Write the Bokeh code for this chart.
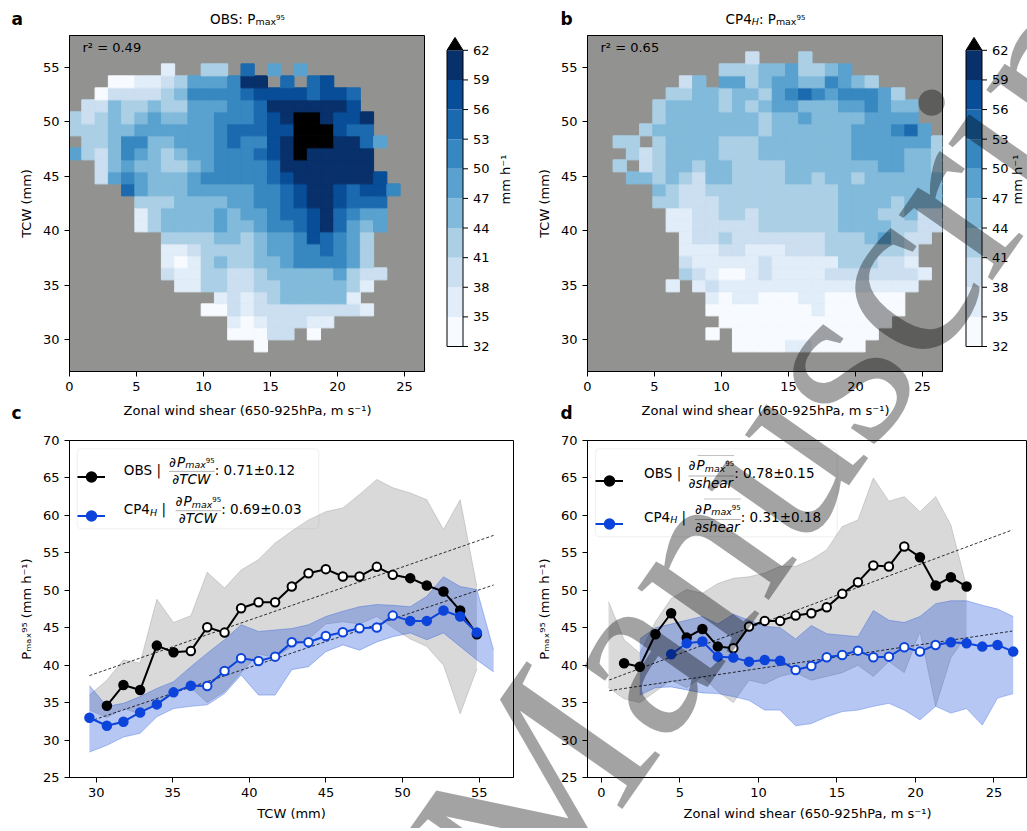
import math
from bokeh.plotting import figure
from bokeh.models import (ColumnDataSource, LinearColorMapper, Label, Legend, LegendItem,
                          FixedTicker, Range1d, PolyAnnotation, BoxAnnotation, Div,
                          InlineStyleSheet)
from bokeh.layouts import row, column
from bokeh.embed import file_html
from bokeh.resources import INLINE
from bokeh.core.properties import value

FONT = "DejaVu Sans"
BG_GREY = "#929391"
BLUE = "#0c44db"
NBSP = "\u00a0"

# ---------------------------------------------------------------- data
level_bounds = [32, 35, 38, 41, 44, 47, 50, 53, 56, 59, 62]
blues10 = ["#f7fbff", "#e1edf8", "#cbdff1", "#abd0e6", "#82badb",
           "#59a2cf", "#3787c0", "#1b6aaf", "#084d97", "#08306b"]
over_colour = "#000000"

# bins of the 2-D composites
shear_edge0, shear_binw = -0.07, 0.99     # zonal wind shear (m s-1)
tcw_edge0, tcw_binw = 28.9, 1.1           # TCW (mm)

# colour class of each cell (row 0 = lowest TCW bin, column 0 = lowest shear bin)
# '0'..'9' -> class k (32+3k .. 35+3k mm h-1), 'B' -> above 62, '.' -> no data
obs_grid = [
    "..............0............",
    "............00022.0........",
    "............10122211.......",
    "..........0021222222221.....",
    "...........12123444441.....",
    "........113322334444431.....",
    ".......21133223444445322...",
    ".......1013433445666653....",
    ".......1123333455667653....",
    ".......3333443455687653....",
    ".....1344445445667897545...",
    ".....1344445455677897655...",
    ".....3334444556678998777...",
    "....754445555566789987886..",
    "..2565444566666789999998...",
    "..245443345666679999999....",
    "53246543455666789B99999....",
    ".3346644555676689BBB9975...",
    "33344555555677788BBB877....",
    "32343454455666789BB9889....",
    ".224334335556679999998.....",
    "..02222346666788887887.....",
    "...001123555699.7.78.......",
    ".......1..33.7.5.5.........",
]
cp4_grid = [
    "...........0000110000......",
    ".........0.00000000000.....",
    "..........0000000000000....",
    ".........000000001000000...",
    ".........101100011000000...",
    "......1.12111111111111111..",
    ".......3210012111122222221..",
    ".......211111211111333221..",
    ".......111221112223333332..",
    ".......1223222222233345322.",
    "......112222233333344443322",
    "......112233233333344433422",
    ".....3322233333333344443444",
    ".....4322333333333344444444",
    "...443432443333443443444444",
    "..3.23443443333444444455443",
    "...323444433344444445555443",
    "..33.3444433344444445555553",
    "....3444444443444444555675.",
    ".....34444444344544445555..",
    ".....34444343455444556544..",
    "......334434435676566653...",
    ".......24.553455446543.....",
    "..........3334453345.......",
    "............2...3..........",
]
r2_obs, r2_cp4 = 0.49, 0.65

# ---- panel c : Pmax95 against TCW
N = float("nan")
tcw_x = [29.56, 30.70, 31.78, 32.87, 33.96, 35.05, 36.18, 37.25, 38.38, 39.46, 40.60, 41.68,
         42.77, 43.86, 44.99, 46.10, 47.19, 48.32, 49.36, 50.50, 51.58, 52.67, 53.76, 54.85, 55.94]
obs_tcw = [N, 34.59, 37.35, 36.68, 42.61, 41.72, 41.90, 45.06, 44.35, 47.60, 48.41, 48.41,
           50.50, 52.28, 52.82, 51.84, 51.84, 53.13, 52.06, 51.62, 50.64, 49.83, 47.29, 44.13, N]
obs_tcw_open = [0, 0, 0, 0, 0, 0, 1, 1, 1, 1, 1, 1, 1, 1, 1, 1, 1, 1, 1, 0, 0, 0, 0, 0, 0]
obs_tcw_hi = [36.0, 38.0, 40.7, 40.3, 48.8, 45.7, 46.6, 52.4, 50.3, 52.7, 54.1, 56.3,
              57.9, 59.4, 60.5, 61.0, 62.8, 64.8, 63.7, 63.0, 62.1, 58.1, 62.1, 50.5, N]
obs_tcw_lo = [34.0, 33.0, 34.2, 33.5, 35.0, 36.5, 37.0, 35.0, 36.5, 39.0, 41.5, 41.0,
              42.5, 43.5, 45.5, 45.8, 45.5, 46.5, 45.0, 43.5, 42.5, 40.0, 33.5, 39.5, N]
cp4_tcw = [32.98, 31.91, 32.45, 33.69, 34.76, 36.37, 37.26, 37.22, 39.22, 40.92, 40.56, 41.14,
           43.06, 43.06, 43.90, 44.39, 44.93, 45.02, 46.62, 45.91, 45.91, 47.29, 46.49, 44.35, N]
cp4_tcw_open = [0, 0, 0, 0, 0, 0, 0, 1, 1, 1, 1, 1, 1, 1, 1, 1, 1, 1, 1, 0, 0, 0, 0, 0, 0]
cp4_tcw_hi = [37.3, 34.5, 34.9, 35.8, 36.9, 37.8, 39.8, 41.6, 43.4, 45.4, 44.5, 44.7,
              44.9, 45.4, 46.5, 47.2, 47.8, 48.1, 48.0, 47.8, 49.2, 51.8, 50.5, 50.1, 42.0]
cp4_tcw_lo = [28.4, 29.3, 30.4, 30.9, 33.1, 34.2, 34.5, 34.7, 36.2, 38.7, 36.0, 36.0,
              39.4, 39.8, 41.8, 42.7, 42.0, 43.1, 43.8, 44.3, 43.4, 44.3, 42.5, 40.7, 39.1]
fit_tcw_x = [29.56, 55.94]
obs_tcw_slope, obs_tcw_err, obs_tcw_at0 = 0.71, 0.12, 38.6
cp4_tcw_slope, cp4_tcw_err, cp4_tcw_at0 = 0.69, 0.03, 32.5

# ---- panel d : Pmax95 against shear
shear_x = [0.45, 1.44, 2.44, 3.44, 4.44, 5.43, 6.43, 7.41, 8.40, 9.40, 10.40, 11.38, 12.37,
           13.37, 14.35, 15.34, 16.34, 17.32, 18.31, 19.29, 20.29, 21.29, 22.26, 23.26,
           24.26, 25.23, 26.23]
obs_sh = [N, 40.25, 39.80, 44.13, 46.93, 43.68, 44.84, 42.48, 42.25, 45.15, 45.91, 45.91, 46.62,
          46.93, 47.74, 49.52, 51.08, 53.31, 53.18, 55.85, 54.42, 50.64, 51.75, 50.50, N, N, N]
obs_sh_open = [0, 0, 0, 0, 0, 0, 0, 0, 1, 1, 1, 1, 1, 1, 1, 1, 1, 1, 1, 1, 0, 0, 0, 0, 0, 0, 0]
obs_sh_hi = [48.5, 43.4, 41.6, 45.8, 48.9, 50.1, 49.6, 50.9, 51.6, 51.8, 52.3, 53.2, 53.2,
             54.1, 55.4, 58.5, 59.4, 65.0, 61.9, 62.5, 60.5, 62.5, 58.7, 50.5, N, N, N]
obs_sh_lo = [37.0, 35.5, 35.0, 36.5, 38.0, 37.0, 38.5, 36.5, 35.0, 38.0, 37.5, 38.5, 39.0,
             38.0, 38.5, 39.0, 40.0, 38.5, 40.5, 39.0, 44.5, 34.5, 41.0, 44.0, N, N, N]
cp4_sh = [N, N, N, N, 41.45, 42.92, 43.15, 41.14, 41.01, 40.47, 40.69, 40.60, 39.36, 39.89,
          41.05, 41.36, 41.94, 41.05, 41.14, 42.39, 41.81, 42.70, 43.06, 42.92, 42.48, 42.70, 41.81]
cp4_sh_open = [0, 0, 0, 0, 0, 0, 0, 0, 0, 0, 0, 0, 1, 1, 1, 1, 1, 1, 1, 1, 1, 1, 0, 0, 0, 0, 0]
cp4_sh_hi = [N, N, 43.5, 45.0, 45.5, 46.0, 46.5, 45.5, 46.8, 46.0, 45.2, 45.0, 43.5, 45.3,
             44.2, 44.0, 43.8, 47.3, 46.0, 45.7, 46.5, 48.2, 48.6, 48.6, 48.0, 47.5, 46.5]
cp4_sh_lo = [N, N, 36.0, 37.0, 37.1, 36.7, 36.3, 36.2, 35.8, 35.3, 34.0, 34.0, 31.9, 32.2,
             33.1, 33.8, 34.0, 34.5, 34.9, 34.0, 32.7, 34.5, 33.6, 34.2, 32.0, 35.6, 36.2]
fit_sh_x = [0.49, 26.17]
obs_sh_slope, obs_sh_err, obs_sh_at0 = 0.78, 0.15, 38.02
cp4_sh_slope, cp4_sh_err, cp4_sh_at0 = 0.31, 0.18, 36.59

watermark_text = "Manuscript"

# ---------------------------------------------------------------- helpers
EM = {"O": .787, "B": .686, "S": .635, ":": .337, " ": .318, NBSP: .318, "P": .603, "C": .698,
      "4": .636, "H": .752, "m": .974, "a": .613, "x": .592, "|": .337, "T": .611, "W": .989,
      "s": .521, "h": .634, "e": .615, "r": .411, "∂": .6, ".": .318, "±": .838}


def text_w(t, size):
    return sum(EM.get(ch, .636) for ch in t) * size


def add_label(p, x, y, text, size=13, style="normal", align="left", angle=0.0,
              level="overlay"):
    p.add_layout(Label(x=x, y=y, x_units="screen", y_units="screen", text=text,
                       text_font=FONT, text_font_size=f"{size}px", text_font_style=style,
                       text_baseline="middle", text_align=align, angle=angle,
                       text_color="black", level=level))


def add_seq(p, x, y, parts, align="left"):
    """parts: (text, size, dy, style); screen units relative to the frame."""
    total = sum(text_w(t, s) for t, s, dy, st in parts)
    if align == "center":
        x -= total / 2
    for t, s, dy, st in parts:
        add_label(p, x, y + dy, t, s, st)
        x += text_w(t, s)
    return x


def add_hline(p, x0, x1, y, width=1.0):
    p.add_layout(PolyAnnotation(xs=[x0, x1], ys=[y, y], xs_units="screen", ys_units="screen",
                                fill_color=None, line_color="black", line_width=width,
                                level="overlay"))


def style_axes(p, xticks, yticks, xlabel, ylabel):
    p.xaxis.ticker = FixedTicker(ticks=xticks)
    p.yaxis.ticker = FixedTicker(ticks=yticks)
    if xlabel:
        p.xaxis.axis_label = xlabel
    p.yaxis.axis_label = ylabel
    for ax in list(p.xaxis) + list(p.yaxis):
        ax.major_tick_in = 0
        ax.major_tick_out = 5
        ax.minor_tick_line_color = None
        ax.axis_line_color = "black"
        ax.major_tick_line_color = "black"
        ax.major_label_text_font = FONT
        ax.major_label_text_font_size = "13px"
        ax.major_label_text_color = "black"
        ax.axis_label_text_font = FONT
        ax.axis_label_text_font_size = "13px"
        ax.axis_label_text_font_style = "normal"
        ax.axis_label_text_color = "black"
        ax.axis_label_standoff = 6
    p.xgrid.visible = False
    p.ygrid.visible = False
    p.outline_line_color = "black"
    p.outline_line_width = 1
    p.outline_line_alpha = 1


def text_strip(height):
    p = figure(width=1027, height=height, x_range=Range1d(0, 1), y_range=Range1d(0, 1),
               output_backend="svg", toolbar_location=None, x_axis_location=None,
               y_axis_location=None, min_border=0, min_border_left=0, min_border_right=0,
               min_border_top=0, min_border_bottom=0)
    p.outline_line_color = None
    p.xgrid.visible = False
    p.ygrid.visible = False
    return p


mapper = LinearColorMapper(palette=blues10, low=level_bounds[0], high=level_bounds[-1],
                           high_color=over_colour)


def decode(grid):
    cols = dict(left=[], right=[], bottom=[], top=[], val=[])
    for r, line in enumerate(grid):
        for c, ch in enumerate(line[:27]):
            if ch == ".":
                continue
            v = level_bounds[-1] + 1.5 if ch == "B" else level_bounds[int(ch)] + 1.5
            cols["left"].append(shear_edge0 + shear_binw * c)
            cols["right"].append(shear_edge0 + shear_binw * (c + 1))
            cols["bottom"].append(tcw_edge0 + tcw_binw * r)
            cols["top"].append(tcw_edge0 + tcw_binw * (r + 1))
            cols["val"].append(v)
    return ColumnDataSource(cols)


TOP_H = 363


def heat_panel(grid, width, bl, br):
    p = figure(width=width, height=TOP_H, x_range=Range1d(0, 26.5),
               y_range=Range1d(27.1, 57.9), output_backend="svg", toolbar_location=None,
               min_border_left=bl, min_border_right=br, min_border_top=1,
               min_border_bottom=TOP_H - 337)
    p.background_fill_color = BG_GREY
    p.quad(left="left", right="right", bottom="bottom", top="top", source=decode(grid),
           fill_color={"field": "val", "transform": mapper},
           line_color={"field": "val", "transform": mapper}, line_width=1.0)
    style_axes(p, list(range(0, 26, 5)), list(range(30, 56, 5)), None, "TCW (mm)")
    return p


def cbar_panel(width, lab_x):
    # the frame covers the whole canvas: the bar occupies x in [0, 1] (16 px)
    left_px = 8.5
    top = level_bounds[-1] + 1.31
    p = figure(width=width, height=TOP_H,
               x_range=Range1d(-left_px / 16, (width - left_px) / 16),
               y_range=Range1d(32 - (TOP_H - 336) / 10.667, 63.5), output_backend="svg",
               toolbar_location=None, x_axis_location=None, y_axis_location=None,
               min_border_left=0, min_border_right=0, min_border_top=0, min_border_bottom=0)
    p.outline_line_color = None
    p.xgrid.visible = False
    p.ygrid.visible = False
    p.quad(left=0, right=1, bottom=level_bounds[:-1], top=level_bounds[1:],
           fill_color=blues10, line_color=None)
    p.patch([0, 0.5, 1], [level_bounds[-1], top, level_bounds[-1]], fill_color=over_colour,
            line_color=None)
    p.line([0, 0, 0.5, 1, 1, 0], [level_bounds[0], level_bounds[-1], top, level_bounds[-1],
                                  level_bounds[0], level_bounds[0]],
           line_color="black", line_width=1)
    p.segment(x0=1, x1=1 + 5 / 16, y0=level_bounds, y1=level_bounds, line_color="black",
              line_width=1)
    p.text(x=1 + 10 / 16, y=level_bounds, text=[str(v) for v in level_bounds],
           text_font_size=value("13px"), text_baseline="middle", text_align="left",
           text_color="black", text_font=value(FONT))
    add_label(p, lab_x, TOP_H - 171, "mm h⁻¹", 13, align="center", angle=math.pi / 2)
    return p


def pmax_parts(size, italic=True):
    st = "italic" if italic else "normal"
    return [("P", size, 0, st), ("max", size * 0.7, -3, st), ("95", size * 0.52, 2, "normal")]


def curve(p, xs, ys, opens, colour):
    pts = [(x, y, o) for x, y, o in zip(xs, ys, opens) if not math.isnan(y)]
    ln = p.line([a for a, b, c in pts], [b for a, b, c in pts], line_color=colour, line_width=2)
    filled = p.scatter([a for a, b, c in pts if not c], [b for a, b, c in pts if not c],
                       size=9, marker="circle", fill_color=colour, line_color=colour,
                       line_width=1.5)
    p.scatter([a for a, b, c in pts if c], [b for a, b, c in pts if c], size=8.5,
              marker="circle", fill_color="white", line_color=colour, line_width=2)
    return ln, filled


def band(p, xs, lo, hi, colour):
    pts = [(x, a, b) for x, a, b in zip(xs, lo, hi) if not (math.isnan(a) or math.isnan(b))]
    p.varea([q[0] for q in pts], [q[1] for q in pts], [q[2] for q in pts],
            fill_color=colour, fill_alpha=0.3)
    p.line([q[0] for q in pts], [q[1] for q in pts], line_color=colour, line_alpha=0.3)
    p.line([q[0] for q in pts], [q[2] for q in pts], line_color=colour, line_alpha=0.3)


def fit_line(p, xs, slope, at0):
    p.line(xs, [at0 + slope * (x - xs[0]) for x in xs], line_color="black", line_width=0.8,
           line_dash="3 2")


def line_panel(width, bl, br, xr, xticks, xlabel):
    p = figure(width=width, height=392, x_range=Range1d(*xr), y_range=Range1d(25, 70),
               output_backend="svg", toolbar_location=None,
               min_border_left=bl, min_border_right=br, min_border_top=9, min_border_bottom=45)
    style_axes(p, xticks, list(range(25, 71, 5)), xlabel, "Pₘₐₓ⁹⁵ (mm h⁻¹)")
    return p


def legend_box(p, left, top, width, height, pad, spacing, items):
    box = BoxAnnotation(left=left, right=left + width, top=top, bottom=top - height,
                        left_units="screen", right_units="screen", top_units="screen",
                        bottom_units="screen", fill_color="white", fill_alpha=0.8,
                        line_color="#cccccc", line_width=1, level="underlay")
    try:
        box.border_radius = 4
    except Exception:
        pass
    p.add_layout(box)
    lg = Legend(items=[LegendItem(label="", renderers=list(r)) for r in items],
                location=(left, top - height), orientation="vertical", padding=pad,
                spacing=spacing, margin=0, glyph_width=28, glyph_height=25, label_height=25,
                label_width=int(round(width - 2 * pad - 33)), label_standoff=5,
                background_fill_alpha=0.0, border_line_color=None,
                label_text_font_size="1px")
    p.add_layout(lg)


# ---------------------------------------------------------------- strips with outer texts
top_strip = text_strip(34)
add_label(top_strip, 11, 16, "a", 17, "bold")
add_seq(top_strip, 247, 16, [("OBS: ", 13.5, 0, "normal")] + pmax_parts(13.5, False), "center")
add_label(top_strip, 560, 16, "b", 17, "bold")
add_seq(top_strip, 765, 16, [("CP4", 13.5, 0, "normal"), ("H", 9.5, -3, "italic"),
                             (": ", 13.5, 0, "normal")] + pmax_parts(13.5, False), "center")

MID_H = 431 - (34 + TOP_H)
mid_strip = text_strip(MID_H)
add_label(mid_strip, 247, 21.5, "Zonal wind shear (650-925hPa, m s⁻¹)", 13, align="center")
add_label(mid_strip, 765, 21.5, "Zonal wind shear (650-925hPa, m s⁻¹)", 13, align="center")
add_label(mid_strip, 11, 19, "c", 17, "bold")
add_label(mid_strip, 560, 19, "d", 17, "bold")

# ---------------------------------------------------------------- panels a, b
pa = heat_panel(obs_grid, 438, 69, 14)
add_label(pa, 13, 324, f"r² = {r2_obs:.2f}", 13)
ca = cbar_panel(92, 67)

pb = heat_panel(cp4_grid, 427, 57, 15)
add_label(pb, 13, 324, f"r² = {r2_cp4:.2f}", 13)
cb = cbar_panel(70, 60)

# ---------------------------------------------------------------- panel c
pc = line_panel(530, 69, 17, (28.26, 57.24), list(range(30, 56, 5)), "TCW (mm)")
band(pc, tcw_x, obs_tcw_lo, obs_tcw_hi, "grey")
band(pc, tcw_x, cp4_tcw_lo, cp4_tcw_hi, BLUE)
fit_line(pc, fit_tcw_x, obs_tcw_slope, obs_tcw_at0)
fit_line(pc, fit_tcw_x, cp4_tcw_slope, cp4_tcw_at0)
oc = curve(pc, tcw_x, obs_tcw, obs_tcw_open, "black")
bc = curve(pc, tcw_x, cp4_tcw, cp4_tcw_open, BLUE)
legend_box(pc, 7.7, 328.7, 241.6, 80, 8, 14, [oc, bc])
for yy, name, sub, x_fr, val, err in [(307.6, "OBS", "", 99.5, obs_tcw_slope, obs_tcw_err),
                                      (268.3, "CP4", "H", 106.0, cp4_tcw_slope, cp4_tcw_err)]:
    add_seq(pc, 54.3, yy, [(name, 13.5, 0, "normal")] +
            ([(sub, 9.5, -3, "italic")] if sub else []) + [(NBSP + "|", 13.5, 0, "normal")])
    xn = add_seq(pc, x_fr, yy + 8, [("∂", 13.5, 0, "italic")] + pmax_parts(13.5))
    add_hline(pc, x_fr, xn, yy - 1.5)
    add_seq(pc, (x_fr + xn) / 2, yy - 9, [("∂TCW", 13.5, 0, "italic")], "center")
    add_label(pc, xn, yy, f": {val:.2f}±{err:.2f}", 13.5)

# ---------------------------------------------------------------- panel d
pd_ = line_panel(497, 57, 0, (-0.89, 27.14), list(range(0, 26, 5)),
                 "Zonal wind shear (650-925hPa, m s⁻¹)")
band(pd_, shear_x, obs_sh_lo, obs_sh_hi, "grey")
band(pd_, shear_x, cp4_sh_lo, cp4_sh_hi, BLUE)
fit_line(pd_, fit_sh_x, obs_sh_slope, obs_sh_at0)
fit_line(pd_, fit_sh_x, cp4_sh_slope, cp4_sh_at0)
od = curve(pd_, shear_x, obs_sh, obs_sh_open, "black")
bd = curve(pd_, shear_x, cp4_sh, cp4_sh_open, BLUE)
legend_box(pd_, 8.0, 328.7, 241.7, 88, 10, 18, [od, bd])
for yy, name, sub, x_fr, val, err in [(304.5, "OBS", "", 101.0, obs_sh_slope, obs_sh_err),
                                      (261.0, "CP4", "H", 107.5, cp4_sh_slope, cp4_sh_err)]:
    add_seq(pd_, 56.5, yy, [(name, 13.5, 0, "normal")] +
            ([(sub, 9.5, -3, "italic")] if sub else []) + [(NBSP + "|", 13.5, 0, "normal")])
    xn = add_seq(pd_, x_fr, yy + 8, [("∂", 13.5, 0, "italic")] + pmax_parts(13.5))
    add_hline(pd_, x_fr + 9, xn, yy + 17.5, 0.8)
    add_hline(pd_, x_fr, xn, yy - 3)
    add_seq(pd_, (x_fr + xn) / 2, yy - 10, [("∂shear", 13.5, 0, "italic")], "center")
    add_label(pd_, xn, yy, f": {val:.2f}±{err:.2f}", 13.5)

# ---------------------------------------------------------------- diagonal watermark
wm_html = (
    '<div style="position:absolute;left:0px;top:0px;width:1027px;height:823px;'
    'overflow:hidden;pointer-events:none;">'
    '<div style="position:absolute;left:362px;top:806px;transform-origin:0 0;'
    'transform:rotate(-55deg);font-family:\'Liberation Serif\';font-weight:normal;'
    'font-size:249px;line-height:1;white-space:nowrap;color:rgba(0,0,0,0.36);">'
    f'{watermark_text}</div></div>'
)
wm = Div(text=wm_html, width=1027, height=823,
         styles={"position": "absolute", "left": "0px", "top": "0px", "z-index": "10",
                 "pointer-events": "none", "overflow": "visible"},
         stylesheets=[InlineStyleSheet(css=":host { position: absolute !important; "
                                           "left: 0px !important; top: 0px !important; "
                                           "z-index: 10; pointer-events: none; }")])

layout = column(top_strip, row(pa, ca, pb, cb), mid_strip, row(pc, pd_), wm)
open("out.html", "w").write(file_html(layout, INLINE))
